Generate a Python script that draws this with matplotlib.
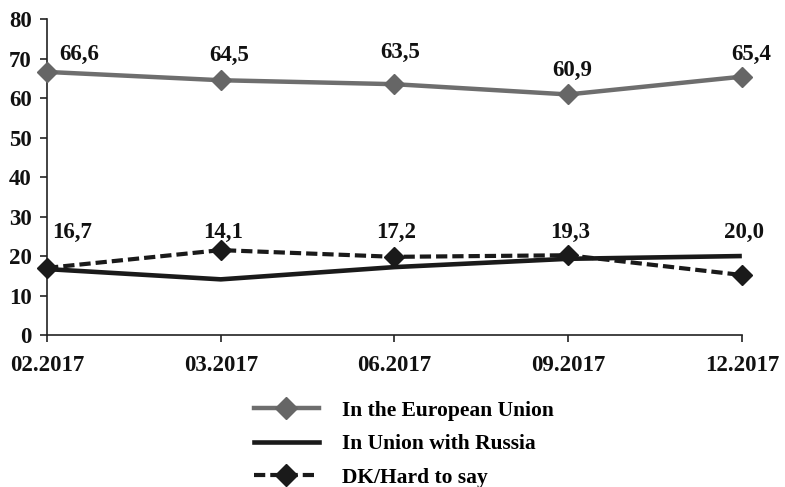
import matplotlib
matplotlib.use("Agg")
import matplotlib.pyplot as plt
from matplotlib.lines import Line2D

categories = ["02.2017", "03.2017", "06.2017", "09.2017", "12.2017"]
eu = [66.6, 64.5, 63.5, 60.9, 65.4]
russia = [16.7, 14.1, 17.2, 19.3, 20.0]
dk = [17.0, 21.5, 19.8, 20.2, 15.2]
eu_labels = ["66,6", "64,5", "63,5", "60,9", "65,4"]
russia_labels = ["16,7", "14,1", "17,2", "19,3", "20,0"]
yticks = [0, 10, 20, 30, 40, 50, 60, 70, 80]

plt.rcParams['font.family'] = ['Liberation Serif', 'DejaVu Serif']
plt.rcParams['font.weight'] = 'bold'

fig = plt.figure(figsize=(7.85, 4.87), dpi=100)
ax = fig.add_axes([0.06, 0.312, 0.885, 0.649])

x = list(range(len(categories)))
gray = "#6e6e6e"
black = "#1a1a1a"
dash = (0, (2.7, 1.2))

ax.plot(x, russia, color=black, lw=3.3, solid_capstyle='butt', zorder=2)
ax.plot(x, dk, color=black, lw=3.0, linestyle=dash, marker='D',
        markersize=10.5, markerfacecolor=black, markeredgecolor=black, zorder=3)
ax.plot(x, eu, color=gray, lw=3.2, marker='D', markersize=10.5,
        markerfacecolor="#666666", markeredgecolor="#666666", zorder=3)

ax.set_xlim(0, len(categories) - 1)
ax.set_ylim(0, 80)
ax.set_xticks(x)
ax.set_xticklabels(categories)
ax.set_yticks(yticks)
ax.tick_params(axis='both', labelsize=16.5, length=5, width=1.2, color="#222222",
               direction='out')
ax.tick_params(axis='x', pad=9)
ax.tick_params(axis='y', pad=6)
for lab in ax.get_xticklabels() + ax.get_yticklabels():
    lab.set_fontweight('bold')
    lab.set_color("#111111")
for s in ['top', 'right']:
    ax.spines[s].set_visible(False)
for s in ['left', 'bottom']:
    ax.spines[s].set_linewidth(1.2)
    ax.spines[s].set_color("#222222")

# EU labels
eu_off = [(32, 17), (8, 25), (6, 32), (4, 24), (9, 22)]
for i, (v, t) in enumerate(zip(eu, eu_labels)):
    ax.annotate(t, xy=(i, v), xytext=eu_off[i], textcoords='offset pixels',
                ha='center', va='center', fontsize=16.5, fontweight='bold',
                color="#111111", annotation_clip=False)

# Russia labels
for i, (v, t) in enumerate(zip(russia, russia_labels)):
    ax.annotate(t, xy=(i, 26.0), xytext=(25 if i == 0 else 2, 0),
                textcoords='offset pixels', ha='center', va='center',
                fontsize=16.5, fontweight='bold', color="#111111",
                annotation_clip=False)

for line in ax.lines:
    line.set_clip_on(False)

handles = [
    Line2D([], [], color=gray, lw=3.2, marker='D', markersize=11,
           markerfacecolor="#666666", markeredgecolor="#666666"),
    Line2D([], [], color=black, lw=3.3),
    Line2D([], [], color=black, lw=3.0, linestyle=dash, marker='D',
           markersize=11, markerfacecolor=black, markeredgecolor=black),
]
names = ["In the European Union", "In Union with Russia", "DK/Hard to say"]
fig.legend(handles, names, loc='center', bbox_to_anchor=(0.515, 0.088),
           frameon=False, prop={'family': 'Liberation Serif', 'weight': 'bold', 'size': 15.5},
           handlelength=3.0, handletextpad=1.1, labelspacing=0.62)

fig.savefig("out.png", dpi=100)
